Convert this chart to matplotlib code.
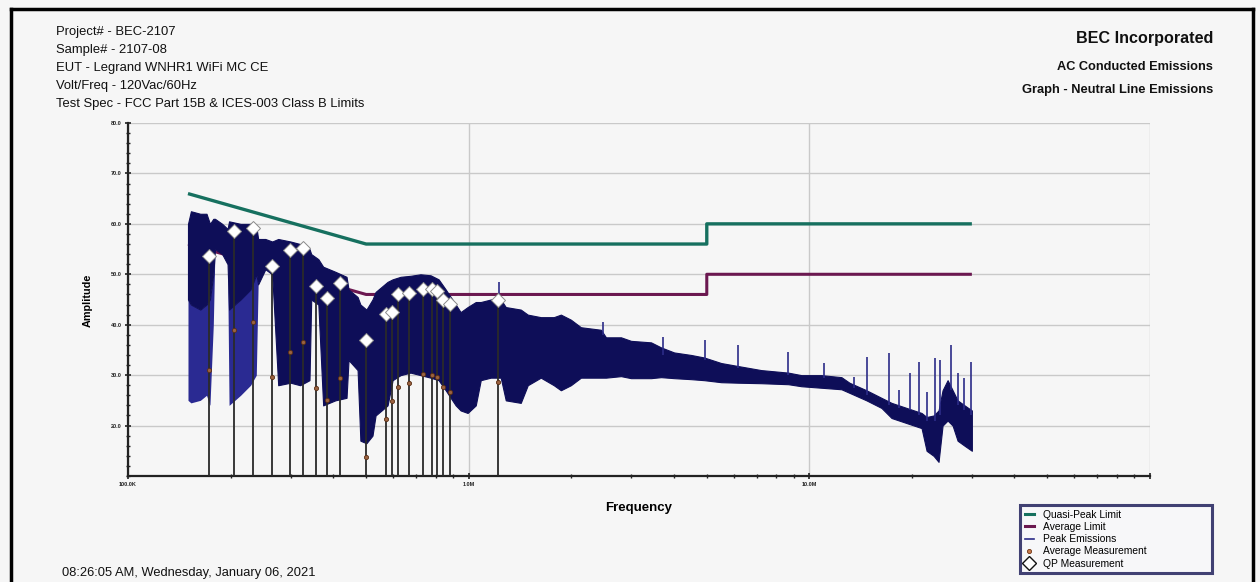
import matplotlib
matplotlib.use("Agg")
import matplotlib.pyplot as plt
from matplotlib.lines import Line2D
import numpy as np

plt.rcParams['font.family'] = ['Liberation Sans', 'DejaVu Sans']

# ---------------- data (frequency in MHz, amplitude in dB) ----------------
limit_freq = [0.15, 0.5, 5.0, 5.0, 30.0]
qp_limit = [66, 56, 56, 60, 60]
avg_limit = [56, 46, 46, 50, 50]

# Peak emissions envelope
peak_freq = [0.150, 0.153, 0.163, 0.170, 0.174, 0.178, 0.180, 0.189, 0.196, 0.198,
             0.214, 0.229, 0.238, 0.241, 0.253, 0.265, 0.276, 0.300, 0.320, 0.341,
             0.345, 0.362, 0.374, 0.406, 0.438, 0.444, 0.472, 0.481, 0.501, 0.522,
             0.533, 0.578, 0.598, 0.631, 0.675, 0.722, 0.773, 0.816, 0.856, 0.916,
             0.947, 0.993, 1.049, 1.085, 1.161, 1.242, 1.285, 1.422, 1.491, 1.628,
             1.778, 1.865, 1.995, 2.135, 2.444, 2.529, 2.800, 2.996, 3.430, 3.671,
             4.009, 4.498, 4.912, 5.511, 6.183, 7.224, 8.673, 9.474, 10.85, 12.42,
             13.11, 14.71, 16.28, 17.43, 19.29, 21.35, 22.09, 23.16, 23.95, 24.61,
             25.46, 26.34, 27.24, 28.56, 30.0]
peak_top = [60.0, 62.5, 62.0, 62.0, 60.0, 61.0, 61.0, 60.0, 59.0, 60.5,
            60.0, 60.0, 59.5, 57.0, 57.0, 56.5, 57.0, 56.5, 56.0, 55.0,
            54.0, 53.0, 51.5, 50.5, 49.5, 47.0, 45.5, 44.0, 43.0, 45.0,
            46.5, 48.5, 49.0, 49.5, 49.7, 50.0, 49.8, 49.0, 47.0, 44.0,
            42.5, 43.5, 44.5, 44.5, 45.0, 45.0, 43.5, 43.0, 42.0, 41.5,
            41.5, 42.0, 41.0, 39.5, 39.0, 37.5, 37.5, 36.8, 36.5, 35.5,
            34.5, 34.0, 33.5, 32.4, 31.8, 31.0, 30.5, 30.0, 30.0, 29.6,
            28.5, 27.0, 25.5, 24.5, 23.5, 22.5, 21.7, 22.0, 23.0, 27.0,
            29.0, 27.0, 25.0, 24.0, 23.0]
peak_bottom = [25.0, 24.5, 25.0, 26.0, 24.0, 40.0, 55.0, 54.0, 52.0, 24.0,
               26.0, 28.0, 30.0, 48.0, 51.0, 50.0, 28.0, 28.5, 28.0, 29.0,
               45.0, 44.0, 24.0, 25.0, 25.5, 33.0, 31.0, 17.0, 16.5, 18.0,
               22.0, 24.0, 29.0, 30.0, 30.5, 30.0, 29.5, 29.0, 27.0, 24.0,
               23.0, 22.5, 24.0, 29.0, 29.5, 29.5, 25.0, 24.5, 28.0, 29.5,
               28.0, 27.0, 28.0, 29.5, 29.5, 29.5, 29.8, 29.4, 29.4, 29.6,
               29.4, 29.2, 29.0, 28.6, 28.5, 28.4, 28.2, 27.8, 27.5, 27.2,
               26.5, 25.0, 23.5, 21.5, 20.5, 19.5, 15.0, 14.0, 12.8, 20.0,
               21.0, 20.0, 17.0, 16.0, 15.0]
# where the solid dark part of the first two comb columns ends
peak_dense_bottom = [45, 44, 43, 44, 45, 50, 55, 54, 52, 43,
                     45, 47, 50, 48.0, 51.0, 50.0, 28.0, 28.5, 28.0, 29.0,
                     45.0, 44.0, 24.0, 25.0, 25.5, 33.0, 31.0, 17.0, 16.5, 18.0,
                     22.0, 24.0, 29.0, 30.0, 30.5, 30.0, 29.5, 29.0, 27.0, 24.0,
                     23.0, 22.5, 24.0, 29.0, 29.5, 29.5, 25.0, 24.5, 28.0, 29.5,
                     28.0, 27.0, 28.0, 29.5, 29.5, 29.5, 29.8, 29.4, 29.4, 29.6,
                     29.4, 29.2, 29.0, 28.6, 28.5, 28.4, 28.2, 27.8, 27.5, 27.2,
                     26.5, 25.0, 23.5, 21.5, 20.5, 19.5, 15.0, 14.0, 12.8, 20.0,
                     21.0, 20.0, 17.0, 16.0, 15.0]

# narrow spikes in the peak trace
spike_freq = [1.225, 2.478, 3.721, 4.945, 6.183, 8.673, 11.07, 13.57, 14.81, 17.19,
              18.39, 19.69, 20.92, 22.09, 23.32, 24.12, 25.99, 27.24, 28.37, 29.75]
spike_top = [48.5, 40.5, 37.6, 37.0, 36.0, 34.6, 32.4, 29.6, 33.6, 34.3,
             27.0, 30.4, 32.6, 26.7, 33.4, 33.0, 36.0, 30.4, 29.4, 32.6]
spike_base = [44.0, 38.0, 34.0, 33.0, 31.5, 30.0, 29.5, 27.5, 26.0, 24.0,
              23.5, 23.0, 22.0, 21.0, 21.0, 22.0, 27.0, 24.0, 23.0, 22.0]

# QP / Average measurements
meas_freq = [0.173, 0.205, 0.233, 0.265, 0.298, 0.327, 0.357, 0.385, 0.418, 0.501,
             0.570, 0.594, 0.622, 0.666, 0.732, 0.779, 0.805, 0.839, 0.879, 1.217]
qp_meas = [53.6, 58.6, 59.2, 51.6, 54.8, 55.2, 47.7, 45.3, 48.3, 37.0,
           42.1, 42.5, 46.0, 46.2, 47.0, 47.0, 46.7, 45.0, 44.1, 45.0]
avg_meas = [31.0, 39.0, 40.5, 29.6, 34.6, 36.6, 27.4, 25.1, 29.4, 13.8,
            21.3, 24.9, 27.7, 28.4, 30.2, 30.0, 29.6, 27.6, 26.7, 28.6]

header_left = ["Project# - BEC-2107", "Sample# - 2107-08", "EUT - Legrand WNHR1 WiFi MC CE",
               "Volt/Freq - 120Vac/60Hz", "Test Spec - FCC Part 15B & ICES-003 Class B Limits"]
header_right = ["BEC Incorporated", "AC Conducted Emissions", "Graph - Neutral Line Emissions"]
timestamp = "08:26:05 AM, Wednesday, January 06, 2021"
y_ticks = [20, 30, 40, 50, 60, 70, 80]
x_ticks = [0.1, 1.0, 10.0]
x_tick_labels = ["100.0K", "1.0M", "10.0M"]

# ---------------- colours ----------------
BG = '#f6f6f6'
QP_C = '#16705f'
AVG_C = '#6b1850'
NAVY = '#0e0e58'
NAVY_LIGHT = '#2a2a92'
SPIKE_C = '#2c2c88'

W, H = 1260, 582
fig = plt.figure(figsize=(W / 100, H / 100), dpi=100, facecolor=BG)
ax = fig.add_axes([128 / W, 1 - 476 / H, (1150 - 128) / W, (476 - 123) / H], facecolor=BG)
ax.set_xscale('log')
ax.set_xlim(0.1, 100)
ax.set_ylim(10, 80)

# grid
ax.set_yticks(y_ticks)
ax.set_yticks(np.arange(10, 81, 2), minor=True)
ax.set_xticks(x_ticks + [100.0])
ax.set_xticklabels(x_tick_labels + [""])
ax.grid(True, which='major', color='#c9c9c9', lw=1.0, zorder=0)
ax.set_yticklabels([f"{v:.1f}" for v in y_ticks])
for s in ['top', 'right']:
    ax.spines[s].set_visible(False)
for s in ['left', 'bottom']:
    ax.spines[s].set_color('#222222')
    ax.spines[s].set_linewidth(1.6)
ax.tick_params(axis='both', which='major', direction='inout', length=5, width=1.2,
               labelsize=4, colors='#222222', pad=2)
ax.tick_params(axis='both', which='minor', direction='inout', length=3, width=1.0,
               colors='#222222')
for lab in ax.get_xticklabels() + ax.get_yticklabels():
    lab.set_fontweight('bold')

# limits (behind trace)
ax.plot(limit_freq, qp_limit, color=QP_C, lw=2.4, zorder=2, solid_capstyle='butt')
ax.plot(limit_freq, avg_limit, color=AVG_C, lw=2.2, zorder=2, solid_capstyle='butt')

# peak emissions trace
ax.fill_between(peak_freq, peak_bottom, peak_dense_bottom, color=NAVY_LIGHT, lw=0, zorder=3)
ax.fill_between(peak_freq, peak_dense_bottom, peak_top, color=NAVY, lw=0.8,
                edgecolor=NAVY, zorder=3)
ax.vlines(spike_freq, spike_base, spike_top, color=SPIKE_C, lw=1.2, zorder=3)

# measurement stems
ax.vlines(meas_freq, 10, qp_meas, color='#2a2a2a', lw=1.3, zorder=4)
ax.plot(meas_freq, avg_meas, ls='none', marker='o', ms=3.0, mfc='#9a6240',
        mec='#5a2e14', mew=0.6, zorder=5)
ax.plot(meas_freq, qp_meas, ls='none', marker='D', ms=6.8, mfc='white',
        mec='#8a8a8a', mew=0.7, zorder=6)

ax.set_xlabel("Frequency", fontsize=9.5, fontweight='bold')
ax.xaxis.set_label_coords(0.5, -(502 - 476) / (476 - 123), transform=ax.transAxes)
ax.set_ylabel("Amplitude", fontsize=7.8, fontweight='bold')
ax.yaxis.set_label_coords(-(128 - 93) / (1150 - 128), (476 - 300) / (476 - 123))

# header texts
for i, t in enumerate(header_left):
    fig.text(56 / W, 1 - (32 + 18 * i) / H, t, fontsize=9.4, va='center', ha='left',
             color='#111111')
fig.text(1213 / W, 1 - 38 / H, header_right[0], fontsize=11.6, fontweight='bold',
         ha='right', va='center', color='#111111')
fig.text(1213 / W, 1 - 67 / H, header_right[1], fontsize=9.2, fontweight='bold',
         ha='right', va='center', color='#111111')
fig.text(1213 / W, 1 - 90 / H, header_right[2], fontsize=9.3, fontweight='bold',
         ha='right', va='center', color='#111111')
fig.text(62 / W, 1 - 573 / H, timestamp, fontsize=9.3, ha='left', va='center',
         color='#111111')

# legend
handles = [Line2D([], [], color=QP_C, lw=2.2),
           Line2D([], [], color=AVG_C, lw=2.2),
           Line2D([], [], color=SPIKE_C, lw=1.2),
           Line2D([], [], ls='none', marker='o', ms=3, mfc='#c97a4c', mec='#6e3416', mew=0.6),
           Line2D([], [], ls='none', marker='D', ms=7, mfc='white', mec='#111111', mew=1.0)]
labels = ["Quasi-Peak Limit", "Average Limit", "Peak Emissions",
          "Average Measurement", "QP Measurement"]
leg = fig.legend(handles, labels, loc='upper left',
                 bbox_to_anchor=(1020 / W, 1 - 505 / H - 0.01, (1212 - 1020) / W, 0.01),
                 mode='expand', fontsize=7.4, frameon=True, fancybox=False,
                 edgecolor='#141452', facecolor='#f8f8fb', handlelength=0.9,
                 handletextpad=0.9, labelspacing=0.22, borderpad=0.45, borderaxespad=0)
leg.get_frame().set_linewidth(2.2)

# outer black frame
fig.add_artist(Line2D([11 / W, 1253 / W], [1 - 9 / H, 1 - 9 / H], color='black', lw=2.5,
                      transform=fig.transFigure))
fig.add_artist(Line2D([11 / W, 11 / W], [0, 1 - 9 / H], color='black', lw=2.5,
                      transform=fig.transFigure))
fig.add_artist(Line2D([1253 / W, 1253 / W], [0, 1 - 9 / H], color='black', lw=2.5,
                      transform=fig.transFigure))

fig.savefig("out.png", dpi=100, facecolor=BG)
